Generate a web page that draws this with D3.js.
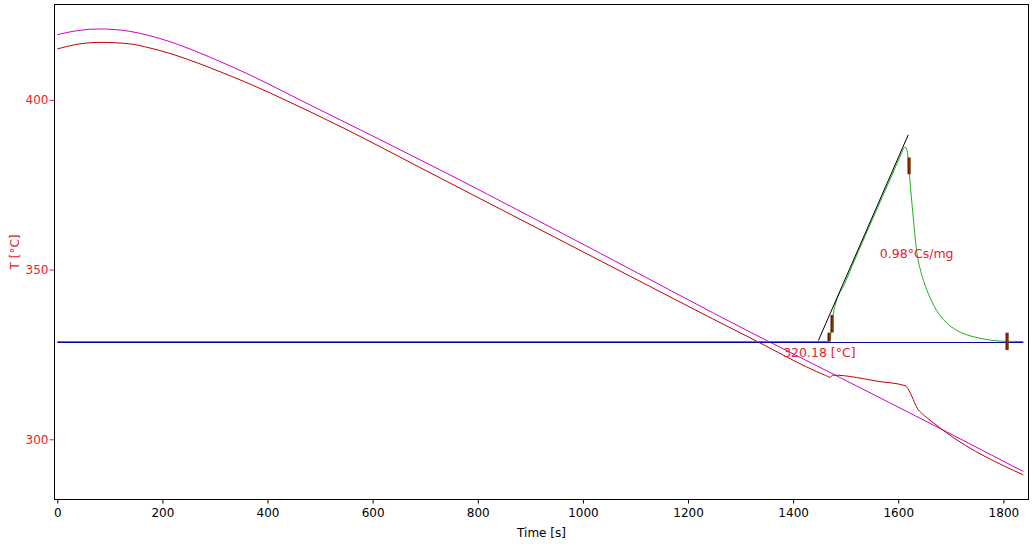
<!DOCTYPE html>
<html>
<head>
<meta charset="utf-8">
<script src="https://cdn.jsdelivr.net/npm/d3@7/dist/d3.min.js"></script>
<style>
  html, body { margin: 0; padding: 0; background: #fff; }
  svg { display: block; font-family: "DejaVu Sans", sans-serif; }
</style>
</head>
<body>
<svg id="chart" width="1032" height="544"></svg>
<script>
// ---- data (time [s], temperature [°C]) ----
const xTicks = [0, 200, 400, 600, 800, 1000, 1200, 1400, 1600, 1800];
const yTicks = [300, 350, 400];

const magentaSeries = [
  [0, 419.2], [43, 420.5], [81, 420.9], [138, 420.2], [176, 418.9], [329, 410.0],
  [481, 398.5], [747, 377.9], [1033, 354.8], [1318, 331.6], [1470, 319.7],
  [1692, 302.2], [1838, 290.5]
];

const redSeries = [
  [0, 415.0], [43, 416.5], [81, 416.95], [138, 416.5], [176, 415.3], [329, 407.1],
  [481, 396.5], [747, 375.5], [1033, 352.6], [1318, 329.9], [1462, 318.8],
  [1470, 318.3], [1476, 318.9], [1565, 317.0], [1613, 315.8], [1620, 314.5],
  [1626, 312.6], [1636, 309.2], [1645, 307.6], [1655, 306.3], [1664, 305.2],
  [1692, 301.9], [1838, 289.5]
];

const greenSeries = [
  [0, 328.81], [1465, 328.81], [1470, 329.1], [1473, 333.0], [1477, 337.5],
  [1500, 346.5], [1550, 364.5], [1590, 378.5], [1605, 383.8], [1613, 386.1],
  [1617, 385.0], [1619, 382.3], [1624, 373.0], [1629, 364.6], [1635, 355.4],
  [1641, 350.6], [1648, 346.8], [1657, 343.0], [1667, 339.6], [1680, 336.4],
  [1692, 334.3], [1710, 332.2], [1730, 330.8], [1755, 329.8], [1781, 329.1],
  [1810, 328.85], [1838, 328.81]
];

const baselineSeries = [[0, 328.52], [1838, 328.52]];
const tangentSeries = [[1448, 329.1], [1619, 389.7]];

// marker bars: time, low T, high T
const markerTimes = [1468.6, 1473.3, 1619.5, 1806];
const markerLow   = [328.8, 331.5, 378.1, 326.3];
const markerHigh  = [331.4, 336.6, 383.0, 331.4];

const annotations = [
  { text: "0.98°Cs/mg", t: 1565, T: 353.3 },
  { text: "320.18 [°C]", t: 1381, T: 324.3 }
];

// ---- layout ----
const svg = d3.select("#chart");
const L = 54.5, R = 1028.5, T0 = 4.5, B = 499.5;

const x = d3.scaleLinear().domain([-5.3, 1847.8]).range([L, R]);
const y = d3.scaleLinear().domain([282.26, 428.1]).range([B, T0]);

svg.append("defs").append("clipPath").attr("id", "clip")
  .append("rect").attr("x", L).attr("y", T0).attr("width", R - L).attr("height", B - T0);

const plot = svg.append("g").attr("clip-path", "url(#clip)");
const line = d3.line().x(d => x(d[0])).y(d => y(d[1])).curve(d3.curveMonotoneX);
const straight = d3.line().x(d => x(d[0])).y(d => y(d[1]));

plot.append("path").attr("d", line(magentaSeries)).attr("fill", "none")
  .attr("stroke", "#cc00cc").attr("stroke-width", 1);
plot.append("path").attr("d", line(redSeries)).attr("fill", "none")
  .attr("stroke", "#c00000").attr("stroke-width", 1);
plot.append("path").attr("d", straight(baselineSeries)).attr("fill", "none")
  .attr("stroke", "#0000a8").attr("stroke-width", 1);
plot.append("path").attr("d", line(greenSeries)).attr("fill", "none")
  .attr("stroke", "#1fae1f").attr("stroke-width", 1);
plot.append("path").attr("d", straight(tangentSeries)).attr("fill", "none")
  .attr("stroke", "#000").attr("stroke-width", 1);

// markers
const mk = plot.selectAll("g.mk").data(markerTimes).enter().append("g").attr("class", "mk");
mk.append("rect")
  .attr("x", d => Math.round(x(d)) - 1.5)
  .attr("width", 3)
  .attr("y", (d, i) => y(markerHigh[i]))
  .attr("height", (d, i) => y(markerLow[i]) - y(markerHigh[i]))
  .attr("fill", "#7a1508");
mk.append("rect")
  .attr("x", d => Math.round(x(d)) + 0.5)
  .attr("width", 1)
  .attr("y", (d, i) => y(markerHigh[i]))
  .attr("height", (d, i) => y(markerLow[i]) - y(markerHigh[i]))
  .attr("fill", "#6a6000");

// annotations
svg.selectAll("text.ann").data(annotations).enter().append("text")
  .attr("class", "ann")
  .attr("x", d => x(d.t)).attr("y", d => y(d.T))
  .attr("fill", "#e8202a").attr("font-size", 12.5)
  .text(d => d.text);

// frame
svg.append("rect").attr("x", L).attr("y", T0).attr("width", R - L).attr("height", B - T0)
  .attr("fill", "none").attr("stroke", "#000").attr("stroke-width", 1);

// axes
const xAxis = svg.append("g").attr("transform", `translate(0,${B})`)
  .call(d3.axisBottom(x).tickValues(xTicks).tickSize(4).tickPadding(4.5).tickFormat(d3.format("d")));
xAxis.select(".domain").remove();
xAxis.selectAll("line").attr("stroke", "#000");
xAxis.selectAll("text").attr("fill", "#000").attr("font-size", 12).attr("font-family", "DejaVu Sans");

const yAxis = svg.append("g").attr("transform", `translate(${L},0)`)
  .call(d3.axisLeft(y).tickValues(yTicks).tickSize(5).tickPadding(1).tickFormat(d3.format("d")));
yAxis.select(".domain").remove();
yAxis.selectAll("line").attr("stroke", "#e8202a");
yAxis.selectAll("text").attr("fill", "#e8202a").attr("font-size", 12).attr("font-family", "DejaVu Sans");

// axis titles
svg.append("text").attr("x", (L + R) / 2).attr("y", 536.5).attr("text-anchor", "middle")
  .attr("font-size", 12).attr("fill", "#000").text("Time [s]");
svg.append("text").attr("transform", "translate(19,252) rotate(-90)")
  .attr("text-anchor", "middle").attr("font-size", 12).attr("fill", "#e8202a").text("T [°C]");
</script>
</body>
</html>
